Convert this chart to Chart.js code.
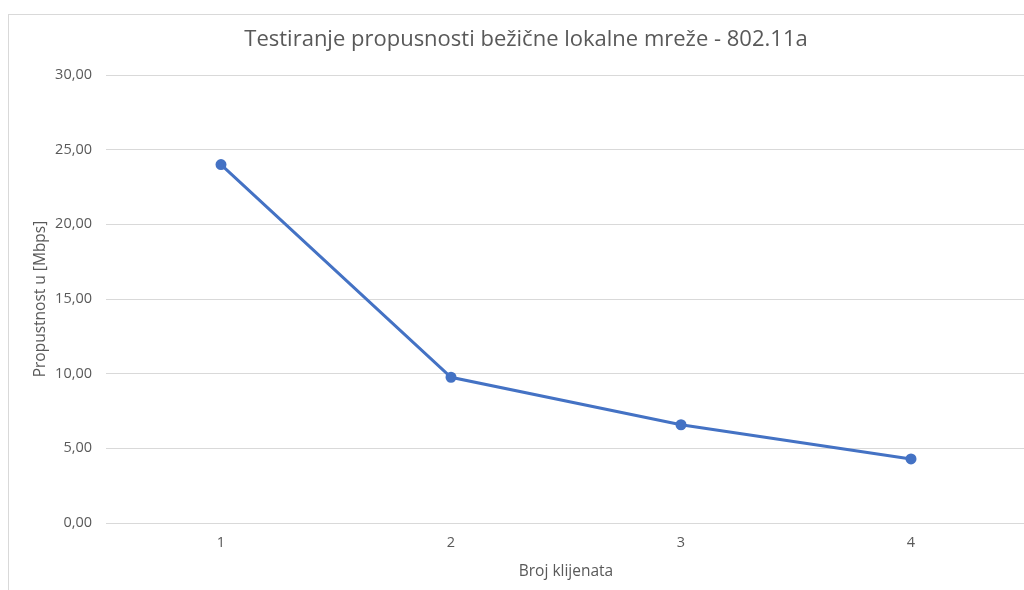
<!DOCTYPE html>
<html>
<head>
<meta charset="utf-8">
<script src="https://cdn.jsdelivr.net/npm/chart.js@4/dist/chart.umd.min.js"></script>
<style>
  html, body { margin: 0; padding: 0; background: #ffffff; overflow: hidden; width: 1024px; height: 590px; }
  #frame { position: absolute; left: 8px; top: 14px; width: 1100px; height: 700px; border: 1px solid #d9d9d9; box-sizing: border-box; }
  #c { position: absolute; left: 0; top: 0; }
</style>
</head>
<body>
<div id="frame"></div>
<canvas id="c" width="1048" height="590"></canvas>
<script>
const chartTitle = 'Testiranje propusnosti bežične lokalne mreže - 802.11a';
const xAxisTitle = 'Broj klijenata';
const yAxisTitle = 'Propustnost u [Mbps]';
const categories = ['1', '2', '3', '4'];
const throughput = [24.00, 9.76, 6.58, 4.29];
const yTicks = [0, 5, 10, 15, 20, 25, 30];

const FONT = '"Open Sans", "Noto Sans", sans-serif';
const GREY = '#595959';

new Chart(document.getElementById('c'), {
  type: 'line',
  data: {
    labels: categories,
    datasets: [{
      data: throughput,
      borderColor: '#4472C4',
      backgroundColor: '#4472C4',
      borderWidth: 3,
      pointRadius: 4,
      pointHoverRadius: 4,
      pointBackgroundColor: '#4472C4',
      pointBorderColor: '#4472C4',
      tension: 0,
      fill: false
    }]
  },
  options: {
    responsive: false,
    animation: false,
    devicePixelRatio: 1,
    layout: { padding: { left: 26, right: 22, top: 0, bottom: 0 } },
    plugins: {
      legend: { display: false },
      tooltip: { enabled: false },
      title: {
        display: true,
        text: chartTitle,
        color: GREY,
        font: { family: FONT, size: 22, weight: 'normal', lineHeight: 1.2 },
        padding: { top: 27, bottom: 21.6 }
      }
    },
    scales: {
      x: {
        offset: true,
        border: { display: false },
        grid: { display: false, drawTicks: false },
        ticks: { color: GREY, font: { family: FONT, size: 14.5 }, padding: 11 },
        title: {
          display: true,
          text: xAxisTitle,
          color: GREY,
          font: { family: FONT, size: 15.5, lineHeight: 1.2 },
          padding: { top: 0, bottom: 9 }
        },
        afterFit: (s) => { s.height = 67; }
      },
      y: {
        min: 0,
        max: 30,
        border: { display: false },
        grid: { color: '#d9d9d9', lineWidth: 1, drawTicks: false },
        afterBuildTicks: (s) => { s.ticks = yTicks.map(v => ({ value: v })); },
        ticks: {
          color: GREY,
          font: { family: FONT, size: 14.5 },
          padding: 14,
          callback: (v) => Number(v).toFixed(2).replace('.', ',')
        },
        title: {
          display: true,
          text: yAxisTitle,
          color: GREY,
          font: { family: FONT, size: 15.5, lineHeight: 1.2 },
          padding: { top: 5, bottom: 0 }
        },
        afterFit: (s) => { s.width = 80; }
      }
    }
  }
});
</script>
</body>
</html>
